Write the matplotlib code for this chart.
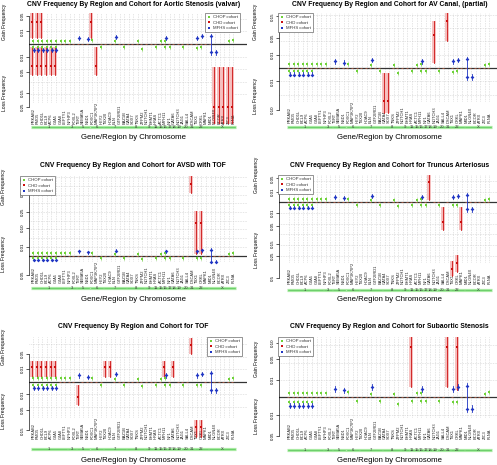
import numpy as np
import matplotlib
matplotlib.use('Agg')
import matplotlib.pyplot as plt
from matplotlib.lines import Line2D

plt.rcParams['font.family'] = ['Liberation Sans', 'DejaVu Sans']

# ---------------- data ----------------
genes = ['PRKAB2', 'FMO5', 'CHD1L', 'BCL9', 'ACP6', 'GJA5', 'GJA8', 'LEFTY1',
         'NPHP3', 'FOXL2', 'TERT', 'SEMA5A', 'NSD1', 'FOXC1', 'MAP3K7IP2',
         'HEY2', 'TBX20', 'HDAC9', 'ELN', 'GTF2IRD1', 'BAZ1B', 'GATA4', 'SOX7',
         'TNKS', 'ZFPM2', 'NOTCH1', 'EHMT1', 'HRAS', 'ACTC1', 'MYH11', 'NF1',
         'GATA6', 'NOTCH3', 'JAG1', 'SALL4', 'DSCAM', 'TBX1', 'CRKL', 'MAPK1',
         'MID1', 'NLGN4X', 'BCOR', 'ATRX', 'ZIC3', 'FLNA']
chrom_names = ['1', '3', '5', '6', '7', '8', '9', '11', '15', '16', '17', '18',
               '19', '20', '21', '22', 'X']
chrom_first = [0, 8, 10, 13, 16, 21, 25, 27, 28, 29, 30, 31, 32, 33, 35, 36, 39]
chrom_last = [7, 9, 12, 15, 20, 24, 26, 27, 28, 29, 30, 31, 32, 34, 35, 38, 44]

titles = ['CNV Frequency By Region and Cohort for Aortic Stenosis (valvar)',
          'CNV Frequency By Region and Cohort for AV Canal, (partial)',
          'CNV Frequency By Region and Cohort for AVSD with TOF',
          'CNV Frequency By Region and Cohort for Truncus Arteriosus',
          'CNV Frequency By Region and Cohort for TOF',
          'CNV Frequency By Region and Cohort for Subaortic Stenosis']
series_labels = ['CHOP cohort', 'CHD cohort', 'MFHS cohort']

# CHOP cohort (same in every panel)
chop_gain_idx = [0, 1, 2, 3, 4, 5, 6, 7, 8, 13, 18, 23, 28, 29, 43, 44]
chop_gain_val = [0.0007, 0.0007, 0.0007, 0.0007, 0.0007, 0.0007, 0.0007, 0.0007,
                 0.0007, 0.0011, 0.0004, 0.0004, 0.0005, 0.0007, 0.0004, 0.0010]
chop_loss_idx = [0, 1, 2, 3, 4, 5, 15, 20, 24, 27, 29, 30, 33, 36, 37]
chop_loss_val = [0.0006, 0.0006, 0.0006, 0.0006, 0.0006, 0.0006, 0.0005, 0.0005,
                 0.0014, 0.0005, 0.0005, 0.0005, 0.0005, 0.0008, 0.0006]

# MFHS cohort (same in every panel)
mfhs_gain_idx = [10, 12, 18, 29, 36, 37, 39]
mfhs_gain_val = [0.0025, 0.0016, 0.0034, 0.0025, 0.0025, 0.0038, 0.0045]
mfhs_gain_lo = [0.0011, 0.0005, 0.0018, 0.0011, 0.0011, 0.0020, 0.0]
mfhs_gain_hi = [0.0045, 0.0032, 0.0056, 0.0045, 0.0045, 0.0060, 0.0068]
mfhs_loss_idx = [0, 1, 2, 3, 4, 5, 39, 40]
mfhs_loss_val = [0.0025, 0.0025, 0.0025, 0.0025, 0.0025, 0.0025, 0.0045, 0.0045]
mfhs_loss_lo = [0.0011, 0.0011, 0.0011, 0.0011, 0.0011, 0.0011, 0.0, 0.0022]
mfhs_loss_hi = [0.0040, 0.0040, 0.0040, 0.0040, 0.0040, 0.0040, 0.0075, 0.0075]

# CHD cohort per panel: (gene index, frequency, CI low, CI high)
p1_chd_gain = [(0, 0.031, 0.002, 0.07), (1, 0.031, 0.002, 0.07), (2, 0.031, 0.002, 0.07),
               (13, 0.031, 0.002, 0.07)]
p1_chd_loss = [(0, 0.030, 0.0005, 0.060), (1, 0.030, 0.0005, 0.060), (2, 0.030, 0.0005, 0.060),
               (3, 0.030, 0.0005, 0.060), (4, 0.030, 0.0005, 0.060), (5, 0.030, 0.0005, 0.060),
               (14, 0.030, 0.0005, 0.060), (40, 0.25, 0.032, 0.40), (41, 0.25, 0.032, 0.40),
               (42, 0.25, 0.032, 0.40), (43, 0.25, 0.032, 0.40), (44, 0.25, 0.032, 0.40)]
p2_chd_gain = [(32, 0.063, 0.0014, 0.123), (35, 0.123, 0.040, 0.20)]
p2_chd_loss = [(21, 0.063, 0.0014, 0.116), (22, 0.063, 0.0014, 0.116)]
p3_chd_gain = [(35, 0.68, 0.52, 0.84), (36, 0.137, 0.0005, 0.26), (37, 0.137, 0.0005, 0.26)]
p3_chd_loss = []
p4_chd_gain = [(31, 0.035, 0.0004, 0.065)]
p4_chd_loss = [(34, 0.033, 0.0017, 0.067), (36, 0.39, 0.30, 0.48), (37, 0.325, 0.242, 0.42),
               (38, 0.033, 0.0017, 0.067)]
p5_chd_gain = [(0, 0.013, 0.0016, 0.028), (1, 0.013, 0.0016, 0.028), (2, 0.013, 0.0016, 0.028),
               (3, 0.013, 0.0016, 0.028), (4, 0.013, 0.0016, 0.028), (5, 0.013, 0.0016, 0.028),
               (16, 0.013, 0.0016, 0.028), (17, 0.013, 0.0016, 0.028), (29, 0.013, 0.0016, 0.028),
               (31, 0.013, 0.0016, 0.028), (35, 0.085, 0.05, 0.118)]
p5_chd_loss = [(10, 0.0155, 0.0007, 0.034), (36, 0.13, 0.09, 0.19), (37, 0.13, 0.09, 0.19)]
p6_chd_gain = [(27, 0.086, 0.0033, 0.13), (35, 0.086, 0.0033, 0.13), (37, 0.086, 0.002, 0.13)]
p6_chd_loss = []
chd_gain_all = [p1_chd_gain, p2_chd_gain, p3_chd_gain, p4_chd_gain, p5_chd_gain, p6_chd_gain]
chd_loss_all = [p1_chd_loss, p2_chd_loss, p3_chd_loss, p4_chd_loss, p5_chd_loss, p6_chd_loss]

gain_ticks = [[0.01, 0.05], [0.01, 0.05, 0.15], [0.01, 0.10, 0.25, 0.5, 0.75],
              [0.01, 0.05], [0.01, 0.05], [0.01, 0.05, 0.10]]
gain_tick_labels = [['0.01', '0.05'], ['0.01', '0.05', '0.15'],
                    ['0.01', '0.10', '0.25', '0.5', '0.75'],
                    ['0.01', '0.05'], ['0.01', '0.05'], ['0.01', '0.05', '0.10']]
loss_ticks = [[0.01, 0.05, 0.15, 0.25], [0.01, 0.10], [0.05],
              [0.01, 0.05, 0.15, 0.25, 0.5], [0.01, 0.05, 0.15], [0.01, 0.05]]
loss_tick_labels = [['0.01', '0.05', '0.15', '0.25'], ['0.01', '0.10'], ['0.05'],
                    ['0.01', '0.05', '0.15', '0.25', '0.5'], ['0.01', '0.05', '0.15'],
                    ['0.01', '0.05']]

# ---------------- layout (pixels) ----------------
W, H = 497, 465
fig = plt.figure(figsize=(W / 100, H / 100), dpi=100)

GREEN = '#6FD23A'
RED = '#CC1010'
PINK = '#F6BDBD'
BLUE = '#2036C4'
GRID = '#C4C4C4'

layouts = [
    dict(g0=33.3, axl=29, axr=247, title_y=4, top=13, lab=124, chrom=127, xlab=137,
         zero=44, scale=126, gl=22, ll=93, ylx=5, leg=(205, 13)),
    dict(g0=289.3, axl=279, axr=497, title_y=4, top=13, lab=123, chrom=127, xlab=137,
         zero=68, scale=133, gl=22, ll=96, ylx=256, leg=(278, 13)),
    dict(g0=33.3, axl=29, axr=247, title_y=165, top=175.5, lab=283, chrom=288, xlab=299,
         zero=255.7, scale=87.4, gl=187, ll=254, ylx=4, leg=(20, 176)),
    dict(g0=289.3, axl=279, axr=497, title_y=165.5, top=175, lab=284, chrom=290, xlab=299,
         zero=202.3, scale=107, gl=175, ll=250, ylx=256.5, leg=(278, 175)),
    dict(g0=33.3, axl=29, axr=247, title_y=326, top=336.7, lab=439, chrom=449, xlab=460,
         zero=381.7, scale=126, gl=347, ll=411, ylx=3.5, leg=(207, 337)),
    dict(g0=289.3, axl=279, axr=497, title_y=326, top=336.7, lab=439, chrom=450, xlab=460,
         zero=397.3, scale=173, gl=359, ll=416, ylx=256.5, leg=(278, 337)),
]
DX = 4.545


def sgn_sqrt(v, loss):
    return -np.sqrt(v) if loss else np.sqrt(v)


for p, L in enumerate(layouts):
    xd = lambda px, L=L: (px - L['g0']) / DX
    yd = lambda py, L=L: (L['zero'] - py) / L['scale']
    ax = fig.add_axes([L['axl'] / W, 1 - L['lab'] / H,
                       (L['axr'] - L['axl']) / W, (L['lab'] - L['top']) / H])
    ax.set_xlim(xd(L['axl']), xd(L['axr']))
    ax.set_ylim(yd(L['lab']), yd(L['top']))
    for s in ['top', 'right', 'bottom']:
        ax.spines[s].set_visible(False)
    ax.set_xticks([])

    # grid
    gb = yd(L['lab'] - 22)
    gt = yd(L['top'])
    for i in range(len(genes)):
        ax.plot([i, i], [gb, gt], ls=':', color=GRID, lw=0.45, zorder=0)
    for k in np.arange(-1.0, 1.01, 0.1):
        if gb <= k <= gt and abs(k) > 1e-6:
            ax.axhline(k, ls=':', color=GRID, lw=0.45, zorder=0)

    ax.axhline(0, color='#333333', lw=0.9, zorder=2)

    # CHD zero markers on axis
    used = set([e[0] for e in chd_gain_all[p]] + [e[0] for e in chd_loss_all[p]])
    zx = [i - 0.2 for i in range(len(genes)) if i not in used]
    ax.plot(zx, np.zeros(len(zx)), ls='', marker='_', ms=1.4, mew=0.45,
            color='#D86848', zorder=3)

    # CHOP
    gy = [np.sqrt(v) for v in chop_gain_val]
    ly = [-np.sqrt(v) for v in chop_loss_val]
    for xs, ys in [(chop_gain_idx, gy), (chop_loss_idx, ly)]:
        ax.plot(xs, ys, ls='', marker='|', ms=3.2, mew=0.5, color=GREEN, zorder=4)
        ax.plot(xs, ys, ls='', marker='s', ms=1.8, mew=0, color=GREEN, zorder=4)

    # CHD
    for entries, loss in [(chd_gain_all[p], False), (chd_loss_all[p], True)]:
        for (i, v, lo, hi) in entries:
            x = i - 0.2
            y0, y1 = sgn_sqrt(lo, loss), sgn_sqrt(hi, loss)
            ax.plot([x, x], [y0, y1], color=PINK, lw=2.8, solid_capstyle='butt', zorder=3)
            ax.plot([x, x], [y0, y1], color=RED, lw=0.6, zorder=3.5)
            ax.plot([x], [sgn_sqrt(v, loss)], ls='', marker='s', ms=1.9, mew=0,
                    color=RED, zorder=5)

    # MFHS
    for idx, val, lo, hi, loss in [(mfhs_gain_idx, mfhs_gain_val, mfhs_gain_lo, mfhs_gain_hi, False),
                                   (mfhs_loss_idx, mfhs_loss_val, mfhs_loss_lo, mfhs_loss_hi, True)]:
        for i, v, a, b in zip(idx, val, lo, hi):
            x = i + 0.1
            ax.plot([x, x], [sgn_sqrt(a, loss), sgn_sqrt(b, loss)], color=BLUE, lw=0.6, zorder=5)
            ax.plot([x], [sgn_sqrt(v, loss)], ls='', marker='D', ms=1.9, mew=0,
                    color=BLUE, zorder=6)

    # y ticks
    tpos = [-np.sqrt(t) for t in loss_ticks[p]] + [np.sqrt(t) for t in gain_ticks[p]]
    tlab = loss_tick_labels[p] + gain_tick_labels[p]
    ax.set_yticks(tpos)
    ax.set_yticklabels(tlab, rotation=90, va='center', fontsize=3.2)
    ax.tick_params(axis='y', length=2, width=0.45, pad=1)
    ax.spines['left'].set_linewidth(0.45)
    ax.spines['left'].set_bounds(min(tpos), max(tpos))

    # gene labels
    for i, g in enumerate(genes):
        ax.text(i, yd(L['lab']), g, rotation=90, ha='center', va='bottom',
                fontsize=2.9, color='#222222')

    # chromosome bar
    cy = yd(L['chrom'])
    ax.plot([-0.5, len(genes) - 0.5], [cy, cy], color='#A8EAA2', lw=2.3,
            solid_capstyle='butt', clip_on=False, zorder=1)
    for name, a, b in zip(chrom_names, chrom_first, chrom_last):
        ax.plot([a - 0.35, b + 0.35], [cy, cy], color='#4CC04C', lw=0.45,
                clip_on=False, zorder=2)
        ax.text((a + b) / 2, cy, name, ha='center', va='center', fontsize=3,
                color='#333333', clip_on=False, zorder=3)

    # texts
    cx = L['g0'] + DX * (len(genes) - 1) / 2
    fig.text(cx / W, 1 - L['title_y'] / H, titles[p], ha='center', va='center',
             fontsize=4.9, fontweight='bold')
    fig.text(cx / W, 1 - L['xlab'] / H, 'Gene/Region by Chromosome', ha='center',
             va='center', fontsize=5.6)
    fig.text(L['ylx'] / W, 1 - L['gl'] / H, 'Gain Frequency', rotation=90,
             ha='center', va='center', fontsize=3.6)
    fig.text(L['ylx'] / W, 1 - L['ll'] / H, 'Loss Frequency', rotation=90,
             ha='center', va='center', fontsize=3.6)

    # legend
    handles = [Line2D([], [], ls='', marker='s', ms=2, mew=0, color=GREEN),
               Line2D([], [], ls='', marker='s', ms=2, mew=0, color=RED),
               Line2D([], [], ls='', marker='s', ms=2, mew=0, color=BLUE)]
    lx, ly_ = L['leg']
    leg = ax.legend(handles, series_labels, loc='upper left',
                    bbox_to_anchor=(lx / W, 1 - ly_ / H), bbox_transform=fig.transFigure,
                    fontsize=3.1, frameon=True, fancybox=False, edgecolor='#444444',
                    framealpha=1, borderpad=0.5, handlelength=0.8, handletextpad=0.5,
                    labelspacing=0.35, borderaxespad=0)
    leg.get_frame().set_linewidth(0.4)
    for t in leg.get_texts():
        t.set_color('#333333')

fig.savefig('out.png', dpi=100)
